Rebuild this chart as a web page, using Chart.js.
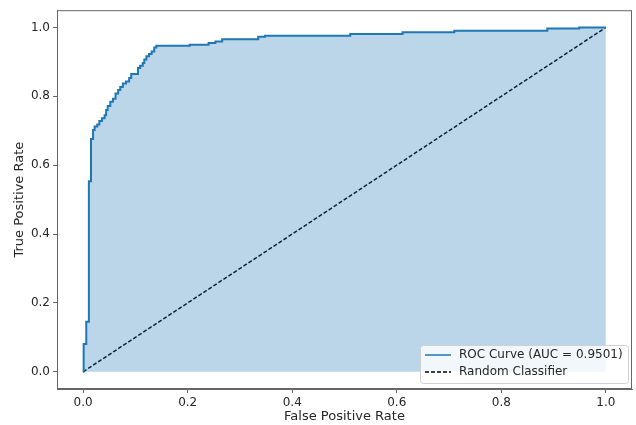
<!DOCTYPE html>
<html>
<head>
<meta charset="utf-8">
<script src="https://cdn.jsdelivr.net/npm/chart.js@4"></script>
<style>
  body { margin: 0; background: #fff; }
  #wrap { width: 636px; height: 425px; }
</style>
</head>
<body>
<div id="wrap"><canvas id="rocChart"></canvas></div>
<script>
// ROC curve corners
const fpr = [0.000, 0.001, 0.001, 0.006, 0.006, 0.011, 0.011, 0.015, 0.015, 0.019, 0.019, 0.022, 0.022,
  0.027, 0.027, 0.031, 0.031, 0.036, 0.036, 0.041, 0.041, 0.044, 0.044, 0.047, 0.047, 0.052, 0.052,
  0.057, 0.057, 0.062, 0.062, 0.067, 0.067, 0.071, 0.071, 0.076, 0.076, 0.082, 0.082, 0.088, 0.088,
  0.092, 0.092, 0.105, 0.105, 0.109, 0.109, 0.114, 0.114, 0.117, 0.117, 0.121, 0.121, 0.126, 0.126,
  0.131, 0.131, 0.136, 0.136, 0.140, 0.140, 0.204, 0.204, 0.240, 0.240, 0.253, 0.253, 0.266, 0.266,
  0.335, 0.335, 0.348, 0.348, 0.511, 0.511, 0.611, 0.611, 0.710, 0.710, 0.888, 0.888, 0.949, 0.949, 1.000]
const tpr = [0.000, 0.000, 0.081, 0.081, 0.145, 0.145, 0.553, 0.553, 0.676, 0.676, 0.702, 0.702, 0.712,
  0.712, 0.718, 0.718, 0.728, 0.728, 0.736, 0.736, 0.745, 0.745, 0.760, 0.760, 0.772, 0.772, 0.784,
  0.784, 0.793, 0.793, 0.808, 0.808, 0.818, 0.818, 0.827, 0.827, 0.837, 0.837, 0.843, 0.843, 0.853,
  0.853, 0.865, 0.865, 0.882, 0.882, 0.889, 0.889, 0.897, 0.897, 0.907, 0.907, 0.916, 0.916, 0.923,
  0.923, 0.930, 0.930, 0.942, 0.942, 0.947, 0.947, 0.950, 0.950, 0.955, 0.955, 0.959, 0.959, 0.966,
  0.966, 0.973, 0.973, 0.976, 0.976, 0.981, 0.981, 0.986, 0.986, 0.990, 0.990, 0.997, 0.997, 1.000, 1.000]
const diagX = [0, 1]
const diagY = [0, 1]
const aucValue = 0.9501
const ticks = [0.0, 0.2, 0.4, 0.6, 0.8, 1.0]

const rocLabel = 'ROC Curve (AUC = ' + aucValue.toFixed(4) + ')'
const randomLabel = 'Random Classifier'
const font = "'DejaVu Sans', sans-serif"
const textColor = '#262626'
const spineColor = '#666'

// frame round the plot, like matplotlib spines
const framePlugin = {
  id: 'frame',
  afterDraw(chart) {
    const { ctx, chartArea: a } = chart
    ctx.save()
    ctx.strokeStyle = spineColor
    ctx.lineWidth = 1
    ctx.strokeRect(a.left + 0.5, a.top + 0.5, a.right - a.left - 1, a.bottom - a.top - 1)
    ctx.restore()
  }
}

// legend inside the plot, lower right
const legendPlugin = {
  id: 'innerLegend',
  afterDraw(chart) {
    const { ctx, chartArea: a } = chart
    const w = 208, h = 38
    const x = a.right - 4 - w, y = a.bottom - 6 - h
    ctx.save()
    ctx.beginPath()
    ctx.roundRect(x + 0.5, y + 0.5, w, h, 3)
    ctx.fillStyle = 'rgba(255,255,255,0.8)'
    ctx.fill()
    ctx.strokeStyle = '#d0d0d0'
    ctx.lineWidth = 1
    ctx.stroke()
    ctx.font = '12px ' + font
    ctx.fillStyle = textColor
    ctx.textBaseline = 'middle'
    const rows = [
      { label: rocLabel, color: '#1f77b4', dash: [] },
      { label: randomLabel, color: '#000', dash: [4, 2] }
    ]
    rows.forEach((r, i) => {
      const cy = y + 10 + i * 17
      ctx.beginPath()
      ctx.setLineDash(r.dash)
      ctx.strokeStyle = r.color
      ctx.lineWidth = 1.5
      ctx.moveTo(x + 5, cy)
      ctx.lineTo(x + 31, cy)
      ctx.stroke()
      ctx.setLineDash([])
      ctx.fillText(r.label, x + 39, cy)
    })
    ctx.restore()
  }
}

function axisConfig(title, fixSize, titlePad) {
  return {
    type: 'linear',
    min: -0.05,
    max: 1.05,
    afterBuildTicks(scale) {
      scale.ticks = ticks.map(v => ({ value: v }))
    },
    afterFit: fixSize,
    grid: {
      drawOnChartArea: false,
      drawTicks: true,
      tickLength: 4,
      tickColor: spineColor,
      color: spineColor
    },
    border: { display: true, color: spineColor },
    ticks: {
      color: textColor,
      font: { family: font, size: 12 },
      padding: 3,
      maxRotation: 0,
      callback: v => v.toFixed(1)
    },
    title: {
      display: true,
      text: title,
      color: textColor,
      font: { family: font, size: 13 },
      padding: titlePad
    }
  }
}

new Chart(document.getElementById('rocChart'), {
  type: 'scatter',
  data: {
    datasets: [
      {
        label: rocLabel,
        data: fpr.map((x, i) => ({ x: x, y: tpr[i] })),
        showLine: true,
        borderColor: '#1f77b4',
        borderWidth: 2,
        backgroundColor: 'rgba(31,119,180,0.3)',
        fill: 'origin',
        pointRadius: 0,
        tension: 0
      },
      {
        label: randomLabel,
        data: diagX.map((x, i) => ({ x: x, y: diagY[i] })),
        showLine: true,
        borderColor: '#000',
        borderWidth: 1.5,
        borderDash: [4, 2],
        fill: false,
        pointRadius: 0
      }
    ]
  },
  options: {
    responsive: true,
    maintainAspectRatio: false,
    animation: false,
    layout: { padding: { top: 8, right: 4, left: 0, bottom: 0 } },
    plugins: {
      legend: { display: false },
      tooltip: { enabled: false }
    },
    scales: {
      x: axisConfig('False Positive Rate', s => { s.height = 36 }, { top: 0, bottom: 1 }),
      y: axisConfig('True Positive Rate', s => { s.width = 57 }, { top: 12, bottom: 0 })
    }
  },
  plugins: [framePlugin, legendPlugin]
})
</script>
</body>
</html>
